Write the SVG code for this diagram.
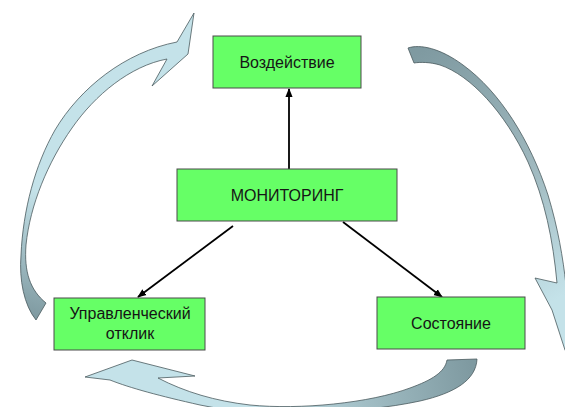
<svg xmlns="http://www.w3.org/2000/svg" width="565" height="407" viewBox="0 0 565 407">
<style>
.box{fill:#66ff66;stroke:#4a4a4a;stroke-width:1}
.lbl{font-family:"Liberation Sans",Arial,sans-serif;font-size:16px;fill:#151515;text-anchor:middle}
.conn{stroke:#000;stroke-width:1.8;fill:none;marker-end:url(#ah)}
.cyc{stroke:#4a5a5e;stroke-width:0.8}
</style>
<defs>
<marker id="ah" viewBox="0 0 10 10" refX="9" refY="5" markerWidth="5" markerHeight="5" orient="auto" markerUnits="strokeWidth">
<path d="M0,1 L10,5 L0,9 Z" fill="#000"/>
</marker>
<linearGradient id="gL" gradientUnits="userSpaceOnUse" x1="38" y1="318" x2="70" y2="200">
<stop offset="0" stop-color="#7f9aa1"/><stop offset="1" stop-color="#c4e2e9"/>
</linearGradient>
<linearGradient id="gR" gradientUnits="userSpaceOnUse" x1="415" y1="55" x2="555" y2="300">
<stop offset="0" stop-color="#7f9aa1"/><stop offset="0.55" stop-color="#9fb8be"/><stop offset="1" stop-color="#c4e2e9"/>
</linearGradient>
<linearGradient id="gB" gradientUnits="userSpaceOnUse" x1="470" y1="365" x2="250" y2="405">
<stop offset="0" stop-color="#7f9aa1"/><stop offset="1" stop-color="#c4e2e9"/>
</linearGradient>
</defs>
<rect width="565" height="407" fill="#fff"/>
<g id="cycle">
<path class="cyc" fill="url(#gL)" d="M36,320 C24,305 19,280 21,255 C23,210 35,165 55,130 C80,88 125,52 177,42 L194,13 L188,54 L152,86 L167,59 C130,66 95,95 72,128 C48,162 30,205 26,245 C24,272 30,290 46,303 Z"/>
<path class="cyc" fill="url(#gR)" d="M408,48 C420,44 440,48 463,65 C500,92 530,140 548,195 C558,228 563,258 566,285 L572,285 L572,360 L565,350 L552,310 L535,278 L557,283 C553,240 545,200 528,162 C505,112 470,75 440,65 C430,62 420,62 414,63 Z"/>
<path class="cyc" fill="url(#gB)" d="M477,359 C476,380 455,393 420,401 C360,414 260,418 200,405 C160,396 130,388 110,380 L85,377 L132,360 L195,376 L158,378 C185,392 215,401 250,405 C300,410 370,403 410,388 C432,380 445,372 447,360 Z"/>
</g>
<g id="connectors">
<line class="conn" x1="289" y1="169" x2="289" y2="89"/>
<line class="conn" x1="233" y1="226" x2="138" y2="297"/>
<line class="conn" x1="343" y1="222" x2="442" y2="297"/>
</g>
<g id="vozdeystvie">
<rect class="box" x="213" y="36" width="148" height="52"/>
<text class="lbl" x="287" y="67.5">Воздействие</text>
</g>
<g id="monitoring">
<rect class="box" x="177" y="169" width="220" height="52"/>
<text class="lbl" x="287" y="201">МОНИТОРИНГ</text>
</g>
<g id="otklik">
<rect class="box" x="54" y="298" width="151" height="52"/>
<text class="lbl" x="130" y="319">Управленческий</text>
<text class="lbl" x="130" y="339">отклик</text>
</g>
<g id="sostoyanie">
<rect class="box" x="377" y="297" width="148" height="52"/>
<text class="lbl" x="451" y="328.5">Состояние</text>
</g>
</svg>
